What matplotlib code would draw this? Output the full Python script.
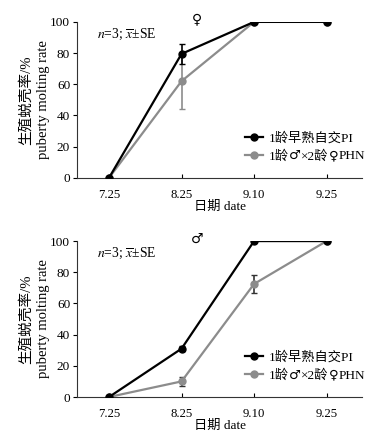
import matplotlib
matplotlib.use("Agg")
import matplotlib.pyplot as plt
from matplotlib.lines import Line2D
import numpy as np

SERIF = ['Liberation Serif', 'Noto Sans CJK SC', 'DejaVu Sans']
plt.rcParams['font.family'] = SERIF
plt.rcParams['mathtext.fontset'] = 'stix'

dates = ["7.25", "8.25", "9.10", "9.25"]
labels = ["1龄早熟自交PI", "1龄♂×2龄♀PHN"]
label2_parts = [("1龄", SERIF), ("♂", ['DejaVu Sans']), ("×2龄", SERIF),
                ("♀", ['DejaVu Sans']), ("PHN", SERIF)]

fem_pi = [0, 79.5, 100, 100]
fem_pi_err = [0, 6.2, 0, 0]
fem_phn = [0, 62, 100, 100]
fem_phn_err = [0, 18, 0, 0]

male_pi = [0, 31, 100, 100]
male_pi_err = [0, 1.5, 0, 0]
male_phn = [0, 10, 72.5, 100]
male_phn_err = [0, 3, 5.5, 0]

GRAY = '#8c8c8c'
panels = [("♀", fem_pi, fem_pi_err, fem_phn, fem_phn_err, [0.204, 0.594, 0.754, 0.356], GRAY),
          ("♂", male_pi, male_pi_err, male_phn, male_phn_err, [0.204, 0.0936, 0.754, 0.356], '#333333')]

LFS = 9.5
fig = plt.figure(figsize=(3.78, 4.38), dpi=100)
x = np.arange(len(dates))
legends = []
for sym, pi, pie, phn, phne, pos, ecol in panels:
    ax = fig.add_axes(pos)
    ax.errorbar(x, phn, yerr=phne, color=GRAY, lw=1.6, marker='o', ms=5,
                ecolor=ecol, elinewidth=1.2, capsize=2.5, zorder=2)
    ax.errorbar(x, pi, yerr=pie, color='black', lw=1.6, marker='o', ms=5,
                ecolor='black', elinewidth=1.2, capsize=2.5, zorder=3)
    ax.set_xlim(-0.44, 3.49)
    ax.set_ylim(0, 100)
    ax.set_yticks([0, 20, 40, 60, 80, 100])
    ax.set_xticks(x)
    ax.set_xticklabels(dates)
    ax.spines['top'].set_visible(False)
    ax.spines['right'].set_visible(False)
    ax.spines['left'].set_color('#333333')
    ax.spines['bottom'].set_color('#333333')
    ax.tick_params(axis='y', direction='out', length=3, labelsize=9.5, pad=2)
    ax.tick_params(axis='x', direction='in', length=3, labelsize=9.2, pad=8)
    ax.set_xlabel("日期 date", fontsize=9.5, labelpad=0)
    ax.set_ylabel("生殖蜕壳率/%\npuberty molting rate", fontsize=10.5, labelpad=0, linespacing=1.45)
    ax.text(0.07, 0.92, r"$n$=3; $\overline{x}$±SE", transform=ax.transAxes, fontsize=9.8,
            va='center', ha='left')
    ax.text(1.21, 101.5, sym, fontsize=10, ha='center', va='center', family=['DejaVu Sans'],
            clip_on=False)
    handles = [Line2D([], [], color='black', lw=1.6, marker='o', ms=5),
               Line2D([], [], color=GRAY, lw=1.6, marker='o', ms=5)]
    leg = ax.legend(handles, labels, loc='lower left', bbox_to_anchor=(0.556, 0.04), frameon=False,
                    fontsize=LFS, handlelength=1.4, handletextpad=0.45, labelspacing=0.4,
                    borderpad=0.2)
    legends.append((ax, leg))

# render second legend label in pieces so that the gender signs use a full-size glyph
fig.canvas.draw()
for ax, leg in legends:
    t = leg.texts[1]
    t.set_alpha(0)
    prev = t
    first = True
    for s, fam in label2_parts:
        a = ax.annotate(s, xy=(0, 0) if first else (1, 0), xycoords=prev,
                        ha='left', va='bottom', fontsize=LFS, family=fam,
                        annotation_clip=False)
        first = False
        prev = a

fig.savefig("out.png", dpi=100)
